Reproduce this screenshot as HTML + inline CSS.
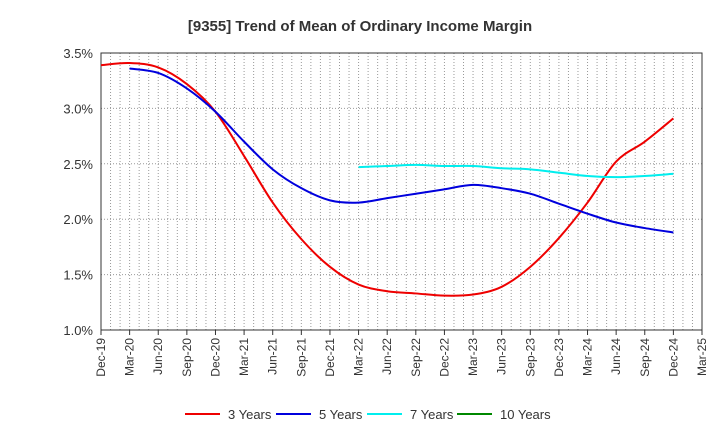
<!DOCTYPE html>
<html><head><meta charset="utf-8"><style>
body{margin:0;background:#fff;font-family:"Liberation Sans",sans-serif}
</style></head><body>
<svg id="c" width="720" height="440" xmlns="http://www.w3.org/2000/svg">
<text x="360" y="31" text-anchor="middle" font-size="15" font-weight="bold" fill="#333">[9355]  Trend of Mean of Ordinary Income Margin</text>
<g id="grid"></g><g id="axes"></g><g id="series"></g><g id="legend"></g>
</svg>
<script>
const xLabels=["Dec-19","Mar-20","Jun-20","Sep-20","Dec-20","Mar-21","Jun-21","Sep-21","Dec-21","Mar-22","Jun-22","Sep-22","Dec-22","Mar-23","Jun-23","Sep-23","Dec-23","Mar-24","Jun-24","Sep-24","Dec-24","Mar-25"];
const yTicks=[1.0,1.5,2.0,2.5,3.0,3.5];
const s3=[3.39,3.41,3.37,3.22,2.97,2.57,2.15,1.82,1.57,1.41,1.35,1.33,1.31,1.32,1.39,1.57,1.83,2.15,2.52,2.70,2.91];
const s5=[null,3.36,3.32,3.18,2.97,2.70,2.45,2.28,2.17,2.15,2.19,2.23,2.27,2.31,2.28,2.23,2.14,2.05,1.97,1.92,1.88];
const s7=[null,null,null,null,null,null,null,null,null,2.47,2.48,2.49,2.48,2.48,2.46,2.45,2.42,2.39,2.38,2.39,2.41];
const s10=[];
const L=101,R=702,T=53,B=330,NS="http://www.w3.org/2000/svg";
const X=i=>L+(R-L)*i/(xLabels.length-1);
const Y=v=>B-(B-T)*(v-1.0)/2.5;
function mk(t,a,p){const e=document.createElementNS(NS,t);for(const k in a)e.setAttribute(k,a[k]);p.appendChild(e);return e;}
const g=document.getElementById('grid'),ax=document.getElementById('axes'),se=document.getElementById('series'),lg=document.getElementById('legend');
for(let m=1;m<(xLabels.length-1)*3;m++){const x=L+(R-L)*m/((xLabels.length-1)*3);
const l=mk('line',{x1:x,x2:x,y1:T,y2:B,stroke:'#999','stroke-dasharray':'1,2','stroke-width':1},g);

}
yTicks.forEach(v=>{const l=mk('line',{x1:L,x2:R,y1:Y(v),y2:Y(v),stroke:'#999','stroke-dasharray':'1,2'},g);


const t=mk('text',{x:L-8,y:Y(v)+5,'text-anchor':'end','font-size':13,fill:'#333'},ax);t.textContent=v.toFixed(1)+'%';

});
const fr=mk('rect',{x:L,y:T,width:R-L,height:B-T,fill:'none',stroke:'#333'},ax);


xLabels.forEach((s,i)=>{const x=X(i);mk('line',{x1:x,x2:x,y1:B,y2:B+5,stroke:'#333'},ax);
const t=mk('text',{x:x+4,y:B+8,'text-anchor':'end','font-size':12,fill:'#333',transform:`rotate(-90 ${x+4} ${B+8})`},ax);t.textContent=s;

});
function path(arr){const p=[];arr.forEach((v,i)=>{if(v!=null)p.push([X(i),Y(v)]);});if(p.length<2)return'';
let d=`M${p[0][0]},${p[0][1]}`;for(let i=0;i<p.length-1;i++){const p0=p[i-1]||p[i],p1=p[i],p2=p[i+1],p3=p[i+2]||p2;
d+=` C${p1[0]+(p2[0]-p0[0])/6},${p1[1]+(p2[1]-p0[1])/6} ${p2[0]-(p3[0]-p1[0])/6},${p2[1]-(p3[1]-p1[1])/6} ${p2[0]},${p2[1]}`;}return d;}
[[s3,'#ee0000','3 Years','series-3-years'],[s5,'#0000dd','5 Years','series-5-years'],[s7,'#00eeee','7 Years','series-7-years'],[s10,'#008800','10 Years','series-10-years']].forEach((s,k)=>{
const d=path(s[0]);if(d){const p=mk('path',{d:d,fill:'none',stroke:s[1],'stroke-width':2},se);

}
const lx=[185,276,367,457][k];
const ln=mk('line',{x1:lx,x2:lx+35,y1:414,y2:414,stroke:s[1],'stroke-width':2},lg);


const t=mk('text',{x:lx+43,y:419,'font-size':13,fill:'#333'},lg);t.textContent=s[2];

});
</script>
</body></html>
